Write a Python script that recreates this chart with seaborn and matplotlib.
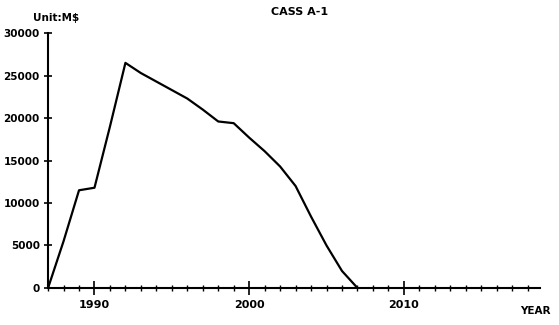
import matplotlib
matplotlib.use('Agg')
import matplotlib.pyplot as plt
from matplotlib.ticker import MultipleLocator
import pandas as pd
import seaborn as sns

# values
years = [1987, 1988, 1989, 1990, 1991, 1992, 1993, 1994, 1995, 1996, 1997,
         1998, 1999, 2000, 2001, 2002, 2003, 2004, 2005, 2006, 2007]
units = [0, 5500, 11500, 11800, 19000, 26500, 25300, 24300, 23300, 22300, 21000,
         19600, 19400, 17700, 16100, 14300, 12000, 8400, 5000, 2000, 0]
y_ticks = [0, 5000, 10000, 15000, 20000, 25000, 30000]
x_ticks = [1990, 2000, 2010]

df = pd.DataFrame({'year': years, 'units': units})

sns.set_style('white', {'xtick.bottom': True, 'ytick.left': True,
                        'text.color': 'black', 'xtick.color': 'black', 'ytick.color': 'black'})
plt.rcParams['font.family'] = ['DejaVu Sans']

fig = plt.figure(figsize=(5.59, 3.25), dpi=100)
ax = fig.add_axes([0.086, 0.114, 0.88, 0.784])

sns.lineplot(data=df, x='year', y='units', color='black', linewidth=1.6, ax=ax)

ax.set_xlim(1987, 2018.8)
ax.set_ylim(0, 30000)
ax.set_xticks(x_ticks)
ax.set_yticks(y_ticks)
ax.set_yticklabels([str(v) for v in y_ticks], fontsize=7.5, fontweight='bold')
ax.set_xticklabels([str(v) for v in x_ticks], fontsize=8, fontweight='bold')
ax.xaxis.set_minor_locator(MultipleLocator(1))
ax.tick_params(axis='x', which='major', direction='inout', length=10, width=1.2,
               color='black', labelcolor='black', pad=4, bottom=True)
ax.tick_params(axis='y', which='major', direction='inout', length=6, width=1.2,
               color='black', labelcolor='black', pad=3, left=True)
ax.tick_params(axis='x', which='minor', direction='inout', length=5, width=1.0,
               color='black', bottom=True)
ax.set_xlabel('')
ax.set_ylabel('')

for side in ['top', 'right']:
    ax.spines[side].set_visible(False)
for side in ['left', 'bottom']:
    ax.spines[side].set_color('black')
    ax.spines[side].set_linewidth(1.5)

fig.text(0.10, 0.935, 'Unit:M\\$', fontsize=7.5, fontweight='bold', ha='center', color='black')
fig.text(0.535, 0.955, 'CASS A-1', fontsize=8, fontweight='bold', ha='center', color='black')
fig.text(0.985, 0.035, 'YEAR', fontsize=7.5, fontweight='bold', ha='right', color='black')

fig.savefig('out.png', dpi=100)
